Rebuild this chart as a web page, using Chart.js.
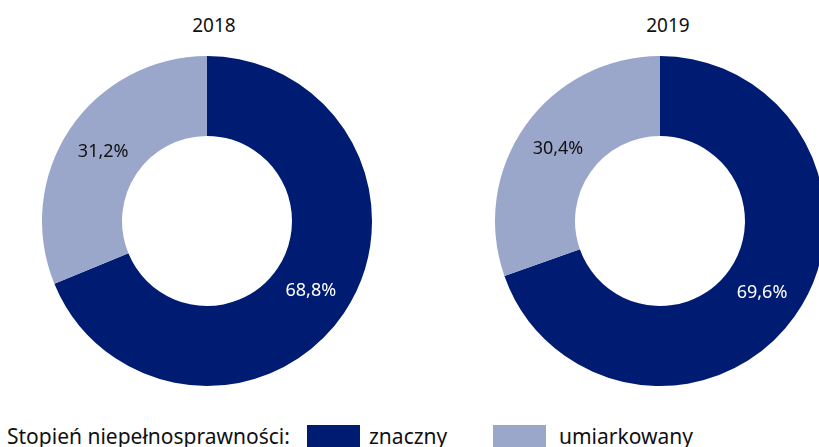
<!DOCTYPE html>
<html>
<head>
<meta charset="utf-8">
<script src="https://cdn.jsdelivr.net/npm/chart.js@4"></script>
<style>
  html, body { margin: 0; padding: 0; background: #fff; overflow: hidden; }
  body { width: 819px; height: 447px; position: relative; font-family: "Noto Sans", sans-serif; color: #111; }
  .pie { position: absolute; top: 56px; width: 330px; height: 330px; }
  .title { position: absolute; top: 12px; width: 120px; text-align: center; font-size: 19px; }
  .legend { position: absolute; left: 7px; top: 422px; font-size: 21px; white-space: nowrap; }
  .legend span { position: absolute; top: 0; }
  .box { display: inline-block; width: 53px; height: 22px; position: absolute; top: 3px !important; }
</style>
</head>
<body>
<div class="title" style="left:154px">2018</div>
<div class="title" style="left:608px">2019</div>
<div class="pie" style="left:42px"><canvas id="c2018"></canvas></div>
<div class="pie" style="left:495px"><canvas id="c2019"></canvas></div>
<div class="legend">
  <span style="left:0">Stopień niepełnosprawności:</span>
  <span class="box" style="left:300px;background:#001c72"></span>
  <span style="left:362px">znaczny</span>
  <span class="box" style="left:486px;background:#9aa7ca"></span>
  <span style="left:552px">umiarkowany</span>
</div>
<script>
const categories = ['znaczny', 'umiarkowany'];
const values2018 = [68.8, 31.2];
const values2019 = [69.6, 30.4];
const colors = ['#001c72', '#9aa7ca'];
const labelColors = ['#ffffff', '#111111'];

// draw percentage labels in the middle of each slice
const sliceLabels = {
  id: 'sliceLabels',
  afterDatasetsDraw(chart) {
    const ctx = chart.ctx;
    const ds = chart.data.datasets[0];
    chart.getDatasetMeta(0).data.forEach((arc, i) => {
      const p = arc.getCenterPoint();
      ctx.save();
      ctx.font = '18px "Noto Sans", sans-serif';
      ctx.fillStyle = labelColors[i];
      ctx.textAlign = 'center';
      ctx.textBaseline = 'middle';
      ctx.fillText(ds.data[i].toFixed(1).replace('.', ',') + '%', p.x, p.y);
      ctx.restore();
    });
  }
};

function makePie(id, values) {
  new Chart(document.getElementById(id), {
    type: 'doughnut',
    data: {
      labels: categories,
      datasets: [{
        data: values,
        backgroundColor: colors,
        borderWidth: 0
      }]
    },
    options: {
      responsive: true,
      maintainAspectRatio: false,
      animation: false,
      cutout: '51.5%',
      plugins: {
        legend: { display: false },
        tooltip: { enabled: false }
      }
    },
    plugins: [sliceLabels]
  });
}

makePie('c2018', values2018);
makePie('c2019', values2019);
</script>
</body>
</html>
